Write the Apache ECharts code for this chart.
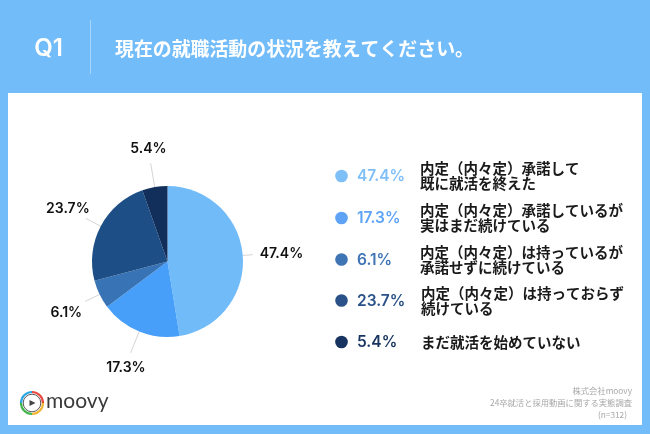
<!DOCTYPE html>
<html><head><meta charset="utf-8">
<style>html,body{margin:0;padding:0;background:#fff}#c{width:650px;height:434px}</style>
<script src="https://cdn.jsdelivr.net/npm/echarts@6/dist/echarts.min.js"></script>
</head><body><div id="c"></div>
<script>
const questionNo = 'Q1';
const questionText = '現在の就職活動の状況を教えてください。';
const values = [47.4, 17.3, 6.1, 23.7, 5.4];
const valueLabels = ['47.4%', '17.3%', '6.1%', '23.7%', '5.4%'];
const categories = [
  '内定（内々定）承諾して\n既に就活を終えた',
  '内定（内々定）承諾しているが\n実はまだ続けている',
  '内定（内々定）は持っているが\n承諾せずに続けている',
  '内定（内々定）は持っておらず\n続けている',
  'まだ就活を始めていない'
];
const sliceColors = ['#71BBF9', '#479FFA', '#3773B5', '#1D4E85', '#122F5C'];
const legendColors = ['#7FBFF8', '#5EA3F6', '#3F74B5', '#2B5288', '#17335F'];
const legendY = [176, 218, 259.5, 300.5, 342];
const legendTextX = [420, 420, 420, 421, 421];
const lineLengths = [10, 23, 16, 17, 24];
const labelShift = [[4,-1],[18,15],[0,11],[7,-10],[19,-15]];
const sourceLines = ['株式会社moovy', '24卒就活と採用動画に関する実態調査', '(n=312)'];
const sourceRight = [632, 632, 627];
const sourceY = [391, 403, 415];
const ff = '"Noto Sans CJK JP", sans-serif';
const numFf = '"Inter", "Noto Sans", sans-serif';

const graphics = [
  {type:'rect', silent:true, z:-10, shape:{x:0,y:0,width:650,height:434}, style:{fill:'#72BCFA'}},
  {type:'rect', silent:true, z:-9, shape:{x:8,y:93,width:634,height:332}, style:{fill:'#FFFFFF'}},
  {type:'rect', silent:true, z:1, shape:{x:90,y:20,width:1,height:54}, style:{fill:'#A9D6FB'}},
  {type:'text', z:2, style:{x:48.5,y:49,text:questionNo,fill:'#fff',font:'600 24px '+numFf,align:'center',verticalAlign:'middle'}},
  {type:'text', z:2, style:{x:115,y:49,text:questionText,fill:'#fff',font:'700 18.9px '+ff,align:'left',verticalAlign:'middle'}}
];
categories.forEach((c,i)=>{
  graphics.push({type:'circle', z:2, shape:{cx:341.5,cy:legendY[i],r:6.3}, style:{fill:legendColors[i]}});
  graphics.push({type:'text', z:2, style:{x:357,y:legendY[i]+0.5,text:valueLabels[i],fill:legendColors[i],font:'600 15.5px '+numFf,align:'left',verticalAlign:'middle'}});
  graphics.push({type:'text', z:2, style:{x:legendTextX[i],y:legendY[i],text:c,fill:'#1a1a1a',font:'700 14.5px '+ff,lineHeight:15,align:'left',verticalAlign:'middle'}});
});
sourceLines.forEach((t,i)=>{
  graphics.push({type:'text', z:2, style:{x:sourceRight[i],y:sourceY[i],text:t,fill:'#A8A8A8',font:'400 8.3px '+ff,align:'right',verticalAlign:'middle'}});
});
// logo
const ringColors = ['#E8483F','#F2B632','#3FB54A','#2AA7DF'];
ringColors.forEach((col,i)=>{
  graphics.push({type:'arc', z:2, shape:{cx:32,cy:403,r:11,startAngle:i*Math.PI/2-Math.PI/2,endAngle:(i+1)*Math.PI/2-Math.PI/2}, style:{stroke:col,lineWidth:2.2,fill:null}});
});
graphics.push({type:'circle', z:2, shape:{cx:32,cy:403,r:8.8}, style:{stroke:'#444',lineWidth:0.9,fill:'#fff'}});
graphics.push({type:'polygon', z:3, shape:{points:[[29.5,400],[29.5,406],[35.5,403]]}, style:{fill:'#444'}});
graphics.push({type:'text', z:2, style:{x:46,y:401,text:'moovy',fill:'#3a3a3a',font:'400 21px Lato, sans-serif',align:'left',verticalAlign:'middle'}});

const chart = echarts.init(document.getElementById('c'), null, {renderer:'canvas'});
chart.setOption({
  animation:false,
  backgroundColor:'transparent',
  graphic:{elements:graphics},
  series:[{
    type:'pie',
    center:[167.5,261.5],
    radius:[0,75.5],
    startAngle:90,
    clockwise:true,
    data:values.map((v,i)=>({value:v,name:valueLabels[i],itemStyle:{color:sliceColors[i]},
      labelLine:{length:lineLengths[i],length2:0}})),
    itemStyle:{borderWidth:0},
    label:{show:true,position:'outside',formatter:'{b}',color:'#111',fontFamily:numFf,fontWeight:600,fontSize:14,distanceToLabelLine:3},
    labelLine:{show:true,smooth:false,lineStyle:{color:'#D5D5D5',width:1}},
    labelLayout:(p)=>({dx:labelShift[p.dataIndex][0],dy:labelShift[p.dataIndex][1]}),
    emphasis:{disabled:true}
  }]
});
</script></body></html>
